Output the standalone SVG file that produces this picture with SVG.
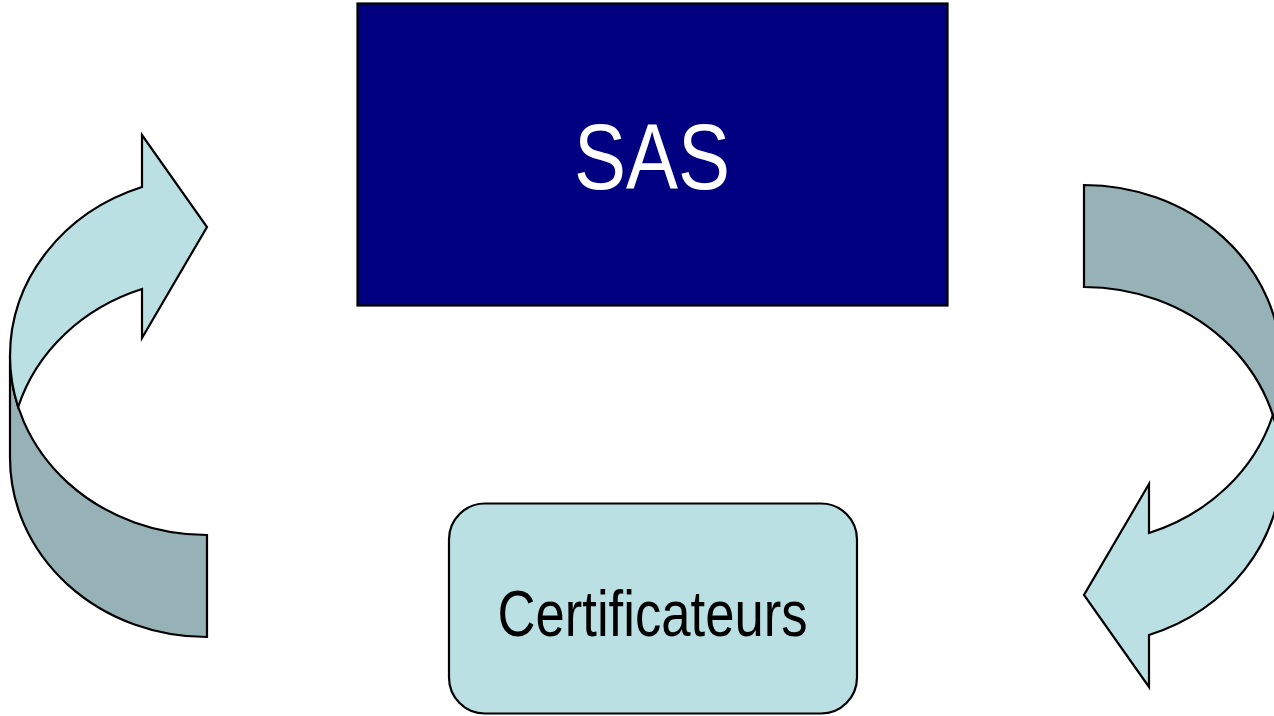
<svg xmlns="http://www.w3.org/2000/svg" width="1274" height="716" viewBox="0 0 1274 716">
<style>
.light{fill:#BBE0E3;stroke:#000;stroke-width:2.2;stroke-linejoin:miter}
.dark{fill:#96B2B6;stroke:#000;stroke-width:2.2;stroke-linejoin:miter}
.lbl{font-family:"Liberation Sans",Arial,sans-serif;text-anchor:middle}
</style>
<defs>
<g id="curvedArrow">
<path class="dark" d="M10,356 A197,179 0 0 0 207,535 L207,637 A197,179 0 0 1 10,458 Z"/>
<path class="light" d="M10,356 A197,179 0 0 1 142,187 L142,135 L207,227 L142,338 L142,289 A197,179 0 0 0 18.17,407 A197,179 0 0 1 10,356 Z"/>
</g>
</defs>
<rect width="1274" height="716" fill="#fff"/>
<g id="connectors">
<use id="arrow-left" href="#curvedArrow"/>
<use id="arrow-right" href="#curvedArrow" transform="rotate(180 645.5 411)"/>
</g>
<g id="node-sas">
<rect x="357.5" y="3.5" width="590" height="302" fill="#000080" stroke="#000" stroke-width="2.2"/>
<text class="lbl" x="652" y="189" font-size="92" fill="#fff" textLength="156" lengthAdjust="spacingAndGlyphs">SAS</text>
</g>
<g id="node-certificateurs">
<rect x="449" y="503.5" width="408" height="210" rx="36" ry="36" fill="#BBE0E3" stroke="#000" stroke-width="2.2"/>
<text class="lbl" x="652.5" y="636" font-size="64" fill="#000" textLength="310" lengthAdjust="spacingAndGlyphs">Certificateurs</text>
</g>
</svg>
